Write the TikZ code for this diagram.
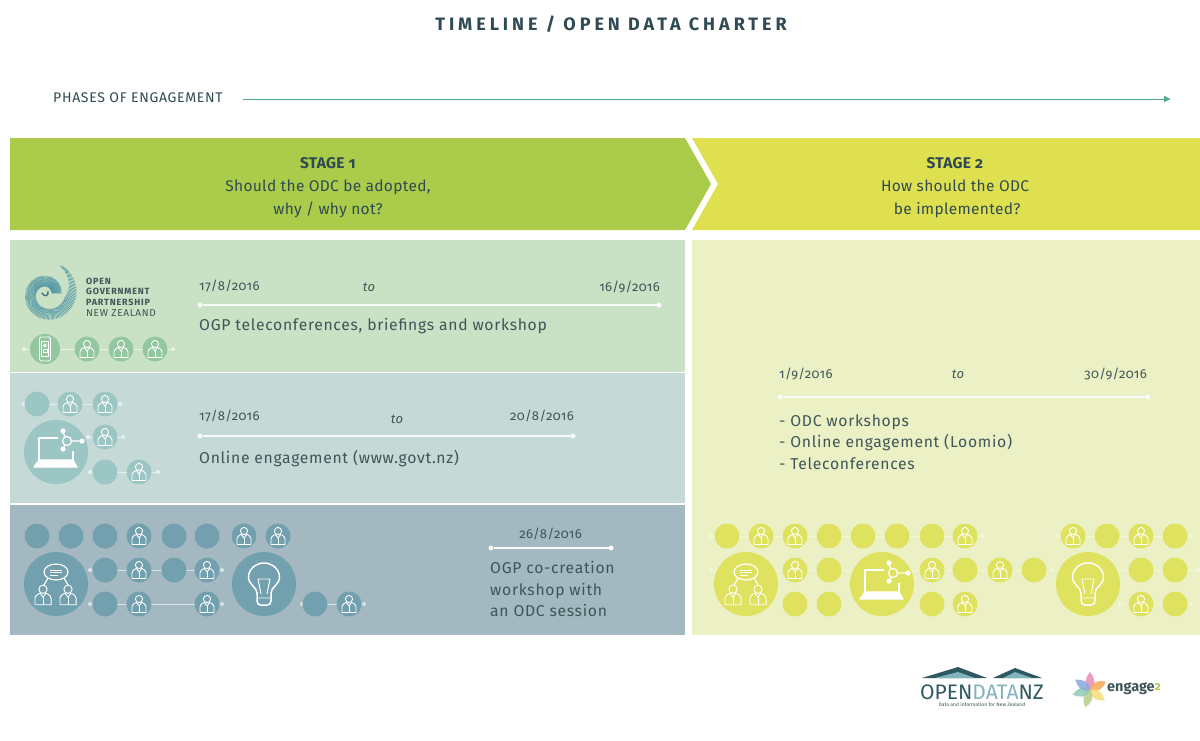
\documentclass[tikz,border=0pt]{standalone}
\usepackage{fontspec}
\setmainfont[Numbers=OldStyle]{Fira Sans}
\usetikzlibrary{arrows.meta,positioning}
\definecolor{inkdark}{HTML}{2F4A52}
\definecolor{inkbody}{HTML}{3F5558}
\definecolor{stageone}{HTML}{ABCB4B}
\definecolor{stagetwo}{HTML}{DFE04F}
\definecolor{paneA}{HTML}{C9E1C4}
\definecolor{paneB}{HTML}{C5DAD6}
\definecolor{paneC}{HTML}{A3B8C0}
\definecolor{paneD}{HTML}{ECF1C5}
\definecolor{blobA}{HTML}{93C79F}
\definecolor{blobB}{HTML}{9CC6C3}
\definecolor{blobC}{HTML}{72A0AE}
\definecolor{blobD}{HTML}{DFE25E}
\definecolor{phasegreen}{HTML}{4FA888}
\definecolor{koru}{HTML}{4C93A3}
\tikzset{%
   small/.style={circle, inner sep=0mm, outer sep=0mm, minimum size=25pt, fill=#1},
   big/.style={circle, inner sep=0mm, outer sep=0mm, minimum size=64pt, fill=#1},
   enddot/.style={circle, inner sep=0mm, outer sep=0mm, minimum size=4pt, fill=#1},
   link/.style={draw=#1, line width=.9pt},
   icon/.style={draw=white, line width=.9pt, line join=round},
   date/.style={inner sep=0pt, anchor=west, font=\fontsize{13}{15}\selectfont\addfontfeatures{LetterSpace=3}, text=inkbody},
   body/.style={inner sep=0pt, anchor=west, align=left, font=\fontsize{15.7}{21.5}\selectfont\addfontfeatures{LetterSpace=4.5}, text=inkbody},
   stage/.style={inner sep=0pt, align=center, font=\fontsize{15.5}{23}\selectfont\addfontfeatures{LetterSpace=2}, text=inkdark},
   logo/.style={inner sep=0pt, anchor=west, text height=6.5pt, text depth=0pt, font=\fontsize{9}{10}\selectfont\bfseries\addfontfeatures{LetterSpace=9}, text=inkbody},
   person/.pic={
     \draw[icon] (0,-5) circle (3.6);
     \draw[icon] (-7,8.5) -- (-7,3) .. controls (-7,0) and (-3,-1.5) .. (-2.5,-1.5) -- (0,2) -- (2.5,-1.5) .. controls (3,-1.5) and (7,0) .. (7,3) -- (7,8.5) -- cycle;
     \draw[icon] (0,2) -- (0,8.5);
   },
   phone/.pic={
     \draw[icon, rounded corners=1.5pt] (-5.5,-12) rectangle (5.5,12);
     \draw[icon] (-3.5,-8) rectangle (3.5,7);
     \draw[icon] (0,-3.5) circle (1.5);
     \draw[icon] (-2,3) -- (-2,0) -- (2,0) -- (2,3) -- cycle;
   },
   laptop/.pic={
     \draw[icon, line width=1.2pt] (2,-14) -- (-17,-14) -- (-17,8) (17,-1) -- (17,8);
     \draw[icon, line width=1.2pt, fill=white] (-17,8) -- (17,8) -- (21,15) -- (-22,15) -- cycle;
     \draw[icon, line width=1.2pt] (11,-11) circle (4.5);
     \draw[icon, line width=1.2pt] (9,-15) -- (7,-20) (9,-7) -- (7,-3) (15.5,-11) -- (25,-11);
     \fill[white] (7,-21) circle (2.6) (7,-3) circle (2.6) (26,-11) circle (2.6);
   },
   talk/.pic={
     \draw[icon, line width=1.2pt] (0,-12) ellipse (12 and 8);
     \draw[icon] (-6,-14) -- (6,-14) (-6,-11.5) -- (6,-11.5) (-6,-9) -- (2,-9);
     \draw[icon, line width=1.1pt] (-8,-6) -- (-12,1) (8,-6) -- (12,1);
     \pic[scale=1.15] at (-13,11) {person};
     \pic[scale=1.15] at (12,11) {person};
   },
   bulb/.pic={
     \draw[icon, line width=1.5pt] (-7,9) .. controls (-7,3) and (-15.5,1) .. (-15.5,-7) .. controls (-15.5,-15) and (-8,-21) .. (0,-21) .. controls (8,-21) and (15.5,-15) .. (15.5,-7) .. controls (15.5,1) and (7,3) .. (7,9) -- (7,17) .. controls (7,20) and (5,21) .. (3,21) -- (-3,21) .. controls (-5,21) and (-7,20) .. (-7,17) -- cycle;
     \draw[icon] (-6,-5) -- (6,-5) (-6,-5) -- (-3,10) (6,-5) -- (3,10) (-7,14) -- (7,14);
   },
   petal/.pic={
     \fill[pic actions] (0,0) .. controls (-8,-6) and (-5,-14) .. (0,-20) .. controls (5,-14) and (8,-6) .. (0,0) -- cycle;
   },
}
\begin{document}
\begin{tikzpicture}[x=1pt, y=-1pt]
   \useasboundingbox (0,0) rectangle (1200,740);
   \fill[white] (0,0) rectangle (1200,740);

   \node[inner sep=0pt, font=\fontsize{18}{20}\selectfont\bfseries\addfontfeatures{LetterSpace=22}, text=inkdark] (title) at (611,24) {TIMELINE / OPEN DATA CHARTER};
   \node[inner sep=0pt, anchor=west, font=\fontsize{14}{16}\selectfont\addfontfeatures{LetterSpace=5}, text=inkdark] (phases) at (53,98) {PHASES OF ENGAGEMENT};
   \coordinate (phaseend) at (1171,99);
   \draw[phasegreen, line width=1pt, -{Latex[length=7pt,width=7pt]}] (phases.east |- phaseend) ++(20,0) -- (phaseend);

   \fill[stageone] (10,138) -- (685,138) -- (711,184) -- (685,230) -- (10,230) -- cycle;
   \fill[stagetwo] (692,138) -- (1200,138) -- (1200,230) -- (692,230) -- (718,184) -- cycle;
   \node[stage] (stage1) at (328,188) {\textbf{STAGE 1}\\Should the ODC be adopted,\\why / why not?};
   \node[stage] (stage2) at (955,187.5) {\textbf{STAGE 2}\\How should the ODC\\\ be implemented?};

   \fill[paneA] (10,240) rectangle (685,372);
   \fill[paneB] (10,373) rectangle (685,503);
   \fill[paneC] (10,505) rectangle (685,635);
   \fill[paneD] (692,240) rectangle (1200,635);

   % date bars
   \foreach \nm/\xa/\xb/\yy in {p/200/659/305, q/200/573/436, r/491/611/548, s/780/1148/397} {
     \node[enddot=white!85!paneA, minimum size=5pt] (\nm0) at (\xa,\yy) {};
     \node[enddot=white!85!paneA, minimum size=5pt] (\nm1) at (\xb,\yy) {};
     \draw[white!85!paneA, line width=1.1pt] (\nm0) -- (\nm1);
   }

   \node[date] (p2) at (199,286) {17/8/2016};
   \node[date, anchor=center] (p3) at (369,287) {\itshape to};
   \node[date, anchor=east] (p4) at (660,287) {16/9/2016};
   \node[body] (p5) at (199,326) {OGP teleconferences, briefings and workshop};

   \node[date] (q2) at (199,416) {17/8/2016};
   \node[date, anchor=center] (q3) at (397,419) {\itshape to};
   \node[date, anchor=east] (q4) at (574,416) {20/8/2016};
   \node[body] (q5) at (199,459) {Online engagement (www.govt.nz)};

   \node[date, anchor=east] (r2) at (582,534) {26/8/2016};
   \node[body] (r5) at (490,589) {OGP co-creation\\workshop with\\an ODC session};

   \node[date] (s2) at (779,374) {1/9/2016};
   \node[date, anchor=center] (s3) at (958,374) {\itshape to};
   \node[date, anchor=east] (s4) at (1147,374) {30/9/2016};
   \node[body] (s5) at (779,442) {- ODC workshops\\- Online engagement (Loomio)\\- Teleconferences};

   % koru logo
   \begin{scope}[shift={(47,294)}]
     \foreach \t in {6,9,...,420} {
       \pgfmathsetmacro{\ro}{32-0.042*\t}
       \pgfmathsetmacro{\ri}{max(\ro-min(\t*0.13,10.5),5)}
       \draw[koru, line width=.5pt] (\t-63-8:\ri) -- (\t-63:\ro);
     }
     \draw[koru!80!black, line width=1.4pt, line cap=round] (-5,-1) .. controls (-3,3) and (2,2.5) .. (1,-2.5);
   \end{scope}
   \node[logo] (ogp1) at (86,281) {OPEN};
   \node[logo, below=3.5pt of ogp1.south west, anchor=north west] (ogp2) {GOVERNMENT};
   \node[logo, below=3.5pt of ogp2.south west, anchor=north west] (ogp3) {PARTNERSHIP};
   \node[logo, below=4.5pt of ogp3.south west, anchor=north west, font=\fontsize{10}{11}\selectfont\addfontfeatures{LetterSpace=7}] (ogp4) {NEW ZEALAND};

   % first pane
   \node[enddot=white!60!paneA] (a0) at (24,349) {};
   \node[enddot=white!60!paneA] (a1) at (173,349) {};
   \draw[link=white!60!paneA] (a0) -- (a1);
   \node[small=blobA, minimum size=30pt] (a2) at (45,349) {};
   \pic at (a2) {phone};
   \foreach \x in {87,121,155} {
     \node[small=blobA] (a\x) at (\x,349) {};
     \pic at (a\x) {person};
   }

   % second pane
   \foreach \nm/\xa/\xb/\yy in {b0/24/120/404, b1/88/123/437, b2/90/158/472} {
     \node[enddot=white!60!paneB] (\nm l) at (\xa,\yy) {};
     \node[enddot=white!60!paneB] (\nm r) at (\xb,\yy) {};
     \draw[link=white!60!paneB] (\nm l) -- (\nm r);
   }
   \node[big=blobB] (blap) at (56,452) {};
   \pic at (blap) {laptop};
   \foreach \x/\yy in {37/404, 105/472} {
     \node[small=blobB] (b\x) at (\x,\yy) {};
   }
   \foreach \x/\yy in {70/404, 105/404, 105/437, 139/472} {
     \node[small=blobB] (c\x\yy) at (\x,\yy) {};
     \pic at (c\x\yy) {person};
   }

   % third pane
   \foreach \nm/\xa/\xb/\yy in {c0/90/222/570, c1/90/222/604, c2/302/364/604} {
     \node[enddot=white!60!paneC] (\nm l) at (\xa,\yy) {};
     \node[enddot=white!60!paneC] (\nm r) at (\xb,\yy) {};
     \draw[link=white!60!paneC] (\nm l) -- (\nm r);
   }
   \node[big=blobC] (ctalk) at (56,584) {};
   \pic at (ctalk) {talk};
   \node[big=blobC] (cbulb) at (264,584) {};
   \pic at (cbulb) {bulb};
   \foreach \x/\yy in {37/536, 71/536, 105/536, 174/536, 207/536, 105/570, 174/570, 105/604, 315/604} {
     \node[small=blobC] (d\x\yy) at (\x,\yy) {};
   }
   \foreach \x/\yy in {139/536, 244/536, 278/536, 139/570, 207/570, 139/604, 207/604, 349/604} {
     \node[small=blobC] (e\x\yy) at (\x,\yy) {};
     \pic at (e\x\yy) {person};
   }

   % right pane
   \foreach \nm/\xa/\xb/\yy in {f0/711/982/536, f1/711/1052/570, f2/1056/1191/536, f3/1100/1198/570, f4/1120/1191/604} {
     \node[enddot=white!35!paneD] (\nm l) at (\xa,\yy) {};
     \node[enddot=white!35!paneD] (\nm r) at (\xb,\yy) {};
     \draw[link=white!35!paneD] (\nm l) -- (\nm r);
   }
   \node[big=blobD] (gtalk) at (746,584) {};
   \pic at (gtalk) {talk};
   \node[big=blobD] (glap) at (882,584) {};
   \pic at (glap) {laptop};
   \node[big=blobD] (gbulb) at (1088,584) {};
   \pic at (gbulb) {bulb};
   \foreach \x/\yy in {727/536, 829/536, 863/536, 897/536, 932/536, 829/570, 965/570, 1034/570, 795/604, 829/604, 932/604, 1107/536, 1175/536, 1141/570, 1175/570, 1175/604} {
     \node[small=blobD] (h\x\yy) at (\x,\yy) {};
   }
   \foreach \x/\yy in {761/536, 795/536, 965/536, 795/570, 932/570, 1000/570, 965/604, 1073/536, 1141/536, 1141/604} {
     \node[small=blobD] (k\x\yy) at (\x,\yy) {};
     \pic at (k\x\yy) {person};
   }

   % logos
   \fill[koru!60!black] (922,678) -- (958,667) -- (987,678) -- cycle;
   \fill[koru!60!black] (993,678) -- (1015,668) -- (1042,678) -- cycle;
   \fill[koru!70!white] (935,678) -- (958,672) -- (975,678) -- cycle;
   \fill[koru!70!white] (1003,678) -- (1015,672) -- (1032,678) -- cycle;
   \node[inner sep=0pt, font=\fontsize{21}{23}\selectfont] (odata) at (982,692) {\textcolor{koru!60!black}{OPEN}\textcolor{koru!70!white}{DATA}\textcolor{koru!60!black}{NZ}};
   \node[inner sep=0pt, font=\fontsize{5}{6}\selectfont, text=inkbody, below=3pt of odata] (otag) {Data and information for New Zealand};

   \foreach \ang/\col in {0/E88CB4, 62/F6A85A, 125/F3DF78, 195/B7CF86, 255/8FCBB5, 305/8CA6DA} {
     \definecolor{petalc}{HTML}{\col}
     \pic[fill=petalc, opacity=.85, rotate=-\ang, scale=.9] at (1090,690) {petal};
   }
   \node[inner sep=0pt, anchor=west, font=\fontsize{14.5}{16}\selectfont\bfseries, text=inkbody] (eng) at (1107,689) {engage\textcolor{stageone}{\raisebox{1pt}{\fontsize{12}{13}\selectfont 2}}};
\end{tikzpicture}
\end{document}
